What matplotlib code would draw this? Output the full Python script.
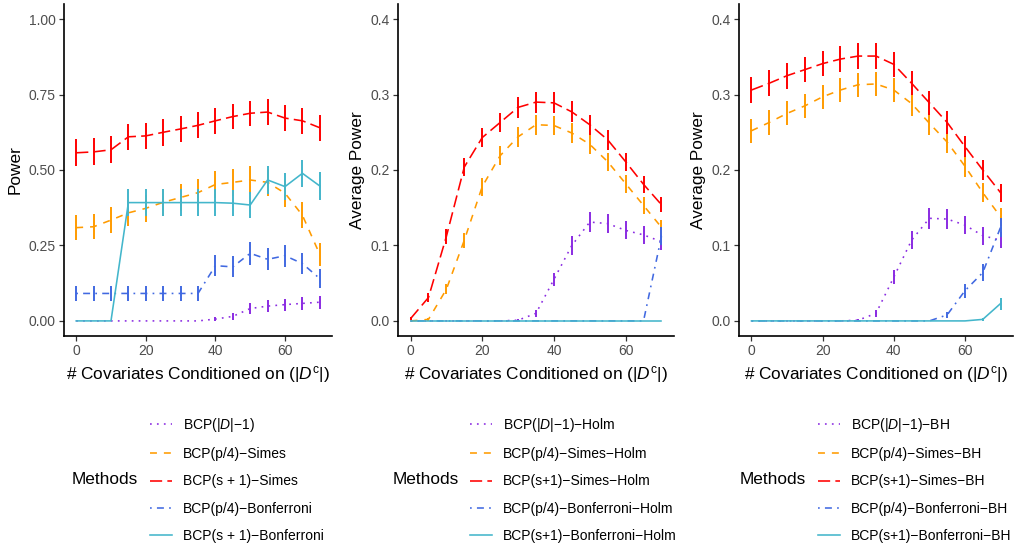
import matplotlib
matplotlib.use("Agg")
import matplotlib.pyplot as plt
import numpy as np

plt.rcParams['font.family'] = ['Liberation Sans', 'DejaVu Sans']
plt.rcParams['mathtext.fontset'] = 'custom'
plt.rcParams['mathtext.rm'] = 'Liberation Sans'
plt.rcParams['mathtext.it'] = 'Liberation Sans:italic'
plt.rcParams['mathtext.bf'] = 'Liberation Sans:bold'
plt.rcParams['lines.scale_dashes'] = False

# ---------------- data ----------------
x = [0, 5, 10, 15, 20, 25, 30, 35, 40, 45, 50, 55, 60, 65, 70]

# Panel 1: Power
p1_dm1 = [0, 0, 0, 0, 0, 0, 0, 0, 0.006, 0.015, 0.041, 0.049, 0.054, 0.058, 0.062]
p1_p4_simes = [0.309, 0.312, 0.334, 0.358, 0.373, 0.393, 0.409, 0.425, 0.452, 0.459, 0.467, 0.459, 0.423, 0.350, 0.220]
p1_s1_simes = [0.557, 0.560, 0.567, 0.610, 0.613, 0.625, 0.636, 0.648, 0.663, 0.677, 0.688, 0.692, 0.672, 0.663, 0.640]
p1_p4_bonf = [0.091, 0.091, 0.091, 0.091, 0.091, 0.091, 0.091, 0.091, 0.183, 0.179, 0.224, 0.204, 0.216, 0.190, 0.140]
p1_s1_bonf = [0, 0, 0, 0.392, 0.392, 0.392, 0.392, 0.392, 0.392, 0.390, 0.384, 0.467, 0.445, 0.489, 0.447]

e1_dm1 = [0, 0, 0, 0, 0, 0, 0, 0, 0.007, 0.011, 0.018, 0.019, 0.020, 0.021, 0.022]
e1_p4_simes = [0.042, 0.042, 0.043, 0.044, 0.044, 0.044, 0.045, 0.045, 0.045, 0.045, 0.045, 0.045, 0.045, 0.043, 0.038]
e1_s1_simes = [0.045, 0.045, 0.045, 0.044, 0.044, 0.044, 0.043, 0.043, 0.043, 0.042, 0.042, 0.042, 0.042, 0.043, 0.043]
e1_p4_bonf = [0.026, 0.026, 0.026, 0.026, 0.026, 0.026, 0.026, 0.026, 0.035, 0.035, 0.038, 0.036, 0.037, 0.035, 0.031]
e1_s1_bonf = [0, 0, 0, 0.044, 0.044, 0.044, 0.044, 0.044, 0.044, 0.044, 0.044, 0.045, 0.045, 0.045, 0.045]

# Panel 2: Average Power (Holm)
p2_dm1 = [0, 0, 0, 0, 0, 0, 0.001, 0.010, 0.055, 0.100, 0.131, 0.129, 0.120, 0.114, 0.105]
p2_p4_simes = [0, 0.002, 0.042, 0.107, 0.178, 0.219, 0.244, 0.260, 0.259, 0.249, 0.234, 0.211, 0.182, 0.153, 0.124]
p2_s1_simes = [0.003, 0.031, 0.112, 0.204, 0.243, 0.263, 0.283, 0.290, 0.289, 0.277, 0.260, 0.240, 0.211, 0.181, 0.154]
p2_p4_bonf = [0, 0, 0, 0, 0, 0, 0, 0, 0, 0, 0, 0, 0, 0, 0.112]
p2_s1_bonf = [0, 0, 0, 0, 0, 0, 0, 0, 0, 0, 0, 0, 0, 0, 0]

e2_dm1 = [0, 0, 0, 0, 0, 0, 0.001, 0.005, 0.009, 0.012, 0.013, 0.013, 0.012, 0.012, 0.011]
e2_p4_simes = [0, 0.002, 0.007, 0.010, 0.012, 0.013, 0.013, 0.013, 0.013, 0.013, 0.013, 0.012, 0.012, 0.011, 0.010]
e2_s1_simes = [0.002, 0.006, 0.010, 0.012, 0.013, 0.013, 0.014, 0.014, 0.014, 0.014, 0.013, 0.013, 0.012, 0.011, 0.010]
e2_p4_bonf = [0, 0, 0, 0, 0, 0, 0, 0, 0, 0, 0, 0, 0, 0, 0.012]
e2_s1_bonf = [0, 0, 0, 0, 0, 0, 0, 0, 0, 0, 0, 0, 0, 0, 0]

# Panel 3: Average Power (BH)
p3_dm1 = [0, 0, 0, 0, 0, 0, 0.001, 0.010, 0.058, 0.107, 0.136, 0.135, 0.127, 0.113, 0.107]
p3_p4_simes = [0.252, 0.263, 0.275, 0.285, 0.297, 0.306, 0.313, 0.314, 0.306, 0.288, 0.262, 0.237, 0.205, 0.170, 0.138]
p3_s1_simes = [0.306, 0.315, 0.325, 0.333, 0.341, 0.347, 0.351, 0.351, 0.340, 0.315, 0.289, 0.263, 0.231, 0.200, 0.170]
p3_p4_bonf = [0, 0, 0, 0, 0, 0, 0, 0, 0, 0, 0, 0.008, 0.040, 0.064, 0.124]
p3_s1_bonf = [0, 0, 0, 0, 0, 0, 0, 0, 0, 0, 0, 0, 0, 0.002, 0.023]

e3_dm1 = [0, 0, 0, 0, 0, 0, 0.001, 0.005, 0.009, 0.012, 0.014, 0.013, 0.012, 0.012, 0.011]
e3_p4_simes = [0.016, 0.016, 0.016, 0.016, 0.016, 0.016, 0.016, 0.016, 0.016, 0.016, 0.015, 0.015, 0.014, 0.013, 0.012]
e3_s1_simes = [0.017, 0.017, 0.017, 0.017, 0.017, 0.017, 0.017, 0.017, 0.017, 0.016, 0.016, 0.015, 0.014, 0.013, 0.012]
e3_p4_bonf = [0, 0, 0, 0, 0, 0, 0, 0, 0, 0, 0, 0.004, 0.009, 0.011, 0.013]
e3_s1_bonf = [0, 0, 0, 0, 0, 0, 0, 0, 0, 0, 0, 0, 0, 0.002, 0.008]

labels1 = ["BCP(|$D$|−1)", "BCP(p/4)−Simes", "BCP(s + 1)−Simes",
           "BCP(p/4)−Bonferroni", "BCP(s + 1)−Bonferroni"]
labels2 = ["BCP(|$D$|−1)−Holm", "BCP(p/4)−Simes−Holm", "BCP(s+1)−Simes−Holm",
           "BCP(p/4)−Bonferroni−Holm", "BCP(s+1)−Bonferroni−Holm"]
labels3 = ["BCP(|$D$|−1)−BH", "BCP(p/4)−Simes−BH", "BCP(s+1)−Simes−BH",
           "BCP(p/4)−Bonferroni−BH", "BCP(s+1)−Bonferroni−BH"]

ylabels = ["Power", "Average Power", "Average Power"]
yticks1 = [0.00, 0.25, 0.50, 0.75, 1.00]
yticklabels1 = ["0.00", "0.25", "0.50", "0.75", "1.00"]
yticks23 = [0.0, 0.1, 0.2, 0.3, 0.4]
yticklabels23 = ["0.0", "0.1", "0.2", "0.3", "0.4"]
xticks = [0, 20, 40, 60]

# ---------------- styles ----------------
colors = ["#8A2BE2", "#FF9B00", "#FF0000", "#4169E1", "#43B6CB"]
u = 1.25
styles = [(0, (u, 3 * u)), (0, (4 * u, 4 * u)), (0, (7 * u, 3 * u)),
          (0, (u, 3 * u, 4 * u, 3 * u)), "solid"]
LW = 1.15

W, H = 1015, 548
fig = plt.figure(figsize=(W / 100, H / 100), dpi=100)

def px_axes(l, r, t, b):
    return fig.add_axes([l / W, (H - b) / H, (r - l) / W, (b - t) / H])

panels = [
    (px_axes(64, 332, 4, 336),
     [p1_dm1, p1_p4_simes, p1_s1_simes, p1_p4_bonf, p1_s1_bonf],
     [e1_dm1, e1_p4_simes, e1_s1_simes, e1_p4_bonf, e1_s1_bonf],
     labels1, (-0.05, 1.05), yticks1, yticklabels1),
    (px_axes(398, 674, 4, 336),
     [p2_dm1, p2_p4_simes, p2_s1_simes, p2_p4_bonf, p2_s1_bonf],
     [e2_dm1, e2_p4_simes, e2_s1_simes, e2_p4_bonf, e2_s1_bonf],
     labels2, (-0.02, 0.42), yticks23, yticklabels23),
    (px_axes(739, 1013, 4, 336),
     [p3_dm1, p3_p4_simes, p3_s1_simes, p3_p4_bonf, p3_s1_bonf],
     [e3_dm1, e3_p4_simes, e3_s1_simes, e3_p4_bonf, e3_s1_bonf],
     labels3, (-0.02, 0.42), yticks23, yticklabels23),
]

legend_pos = [(72, 150), (393, 470), (740, 818)]

for i, (ax, series, errs, labs, ylim, yt, ytl) in enumerate(panels):
    handles = []
    for k in range(5):
        ax.errorbar(x, series[k], yerr=errs[k], fmt='none', ecolor=colors[k],
                    elinewidth=1.4, capsize=0, zorder=2 + k)
        ln, = ax.plot(x, series[k], color=colors[k], linestyle=styles[k],
                      linewidth=LW, label=labs[k], zorder=2 + k)
        handles.append(ln)
    ax.set_xlim(-3.5, 73.5)
    ax.set_ylim(*ylim)
    ax.set_xticks(xticks)
    ax.set_xticklabels([str(t) for t in xticks])
    ax.set_yticks(yt)
    ax.set_yticklabels(ytl)
    for s in ["top", "right"]:
        ax.spines[s].set_visible(False)
    for s in ["left", "bottom"]:
        ax.spines[s].set_linewidth(1.2)
        ax.spines[s].set_color("black")
    ax.tick_params(axis="both", length=3.5, width=0.9, color="#333333",
                   labelsize=10, labelcolor="#4D4D4D", pad=2.5)
    ax.set_ylabel(ylabels[i], fontsize=12.4, color="black", labelpad=4)
    ax.set_xlabel(r"# Covariates Conditioned on (|$D^{\mathrm{c}}$|)",
                  fontsize=12.4, color="black", labelpad=4)
    ax.set_facecolor("white")

    tx, kx = legend_pos[i]
    fig.text(tx / W, (H - 479) / H, "Methods", fontsize=12.4,
             ha="left", va="center")
    fig.legend(handles=handles, labels=labs, loc="upper left",
               bbox_to_anchor=(kx / W, (H - 416) / H),
               frameon=False, fontsize=10, handlelength=1.55,
               handletextpad=0.8, labelspacing=0.95,
               borderpad=0, borderaxespad=0)

fig.savefig("out.png", dpi=100, facecolor="white")
